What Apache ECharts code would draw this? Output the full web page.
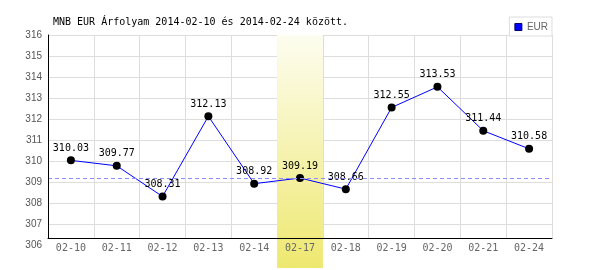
<!DOCTYPE html>
<html>
<head>
<meta charset="utf-8">
<script src="https://cdn.jsdelivr.net/npm/echarts@6/dist/echarts.min.js"></script>
<style>html,body{margin:0;padding:0;background:#fff}#c{width:600px;height:270px}</style>
</head>
<body>
<div id="c"></div>
<script>
const titleText = 'MNB EUR Árfolyam 2014-02-10 és 2014-02-24 között.';
const categories = ['02-10','02-11','02-12','02-13','02-14','02-17','02-18','02-19','02-20','02-21','02-24'];
const eurValues = [310.03, 309.77, 308.31, 312.13, 308.92, 309.19, 308.66, 312.55, 313.53, 311.44, 310.58];
const refLine = 309.19;
const highlightCat = '02-17';
const yMin = 306, yMax = 316, yStep = 1;

const mono = 'DejaVu Sans Mono';
const sans = 'Liberation Sans';
const bandData = categories.map(c => c === highlightCat ? 1 : null);
const splitColors = [];
for (let v = yMin; v <= yMax; v += yStep) splitColors.push(v === yMin ? 'rgba(0,0,0,0)' : '#dddddd');

const chart = echarts.init(document.getElementById('c'), null, {renderer: 'canvas'});
chart.setOption({
  animation: false,
  backgroundColor: '#ffffff',
  title: {
    text: titleText, left: 48, top: 12,
    textStyle: {fontFamily: mono, fontSize: 10, fontWeight: 'normal', color: '#000'}
  },
  legend: {
    right: 48, top: 17, orient: 'horizontal',
    padding: [5, 4, 4, 5],
    borderColor: '#dddddd', borderWidth: 1, backgroundColor: '#fff',
    itemWidth: 7, itemHeight: 7, icon: 'rect',
    textStyle: {fontFamily: sans, fontSize: 10, color: '#666'},
    data: [{name: 'EUR', itemStyle: {color: '#0000ff', borderColor: '#000066', borderWidth: 1}}]
  },
  grid: [
    {left: 48, right: 48, top: 35, height: 210},
    {left: 48, right: 48, top: 35, height: 203},
    {left: 48, right: 48, top: 35, height: 233}
  ],
  xAxis: [
    {gridIndex: 0, type: 'category', data: categories, show: false},
    {gridIndex: 1, type: 'category', data: categories, position: 'bottom', z: 0,
     axisLine: {show: false}, axisTick: {show: false}, axisLabel: {show: false},
     splitLine: {show: true, lineStyle: {color: '#dddddd', width: 1}}},
    {gridIndex: 1, type: 'category', data: categories, position: 'bottom', z: 6,
     axisLine: {show: true, lineStyle: {color: '#000', width: 1}}, axisTick: {show: false},
     axisLabel: {show: true, fontFamily: mono, fontSize: 10, color: '#666', margin: 5},
     splitLine: {show: false}},
    {gridIndex: 2, type: 'category', data: categories, show: false}
  ],
  yAxis: [
    {gridIndex: 0, type: 'value', min: yMin, max: yMax, interval: yStep, position: 'left',
     axisLine: {show: false}, axisTick: {show: false},
     axisLabel: {fontFamily: sans, fontSize: 10, color: '#555', margin: 6},
     splitLine: {show: true, lineStyle: {color: splitColors, width: 1}}},
    {gridIndex: 1, type: 'value', min: 0, max: 1, position: 'left', z: 6,
     axisLine: {show: true, lineStyle: {color: '#000', width: 1}}, axisTick: {show: false},
     axisLabel: {show: false}, splitLine: {show: false}},
    {gridIndex: 2, type: 'value', min: 0, max: 1, show: false}
  ],
  series: [
    {
      name: 'band', type: 'bar', xAxisIndex: 3, yAxisIndex: 2, data: bandData,
      barWidth: '100%', z: 1, silent: true, legendHoverLink: false,
      itemStyle: {color: new echarts.graphic.LinearGradient(0, 0, 0, 1, [
        {offset: 0, color: '#fdfdf0'}, {offset: 1, color: '#eee870'}])}
    },
    {
      name: 'EUR', type: 'line', xAxisIndex: 0, yAxisIndex: 0, data: eurValues, z: 4,
      symbol: 'circle', symbolSize: 8,
      lineStyle: {color: '#0000ff', width: 1},
      itemStyle: {color: '#000'},
      label: {show: true, position: 'top', distance: 3, fontFamily: mono, fontSize: 10, color: '#000',
              formatter: p => p.value.toFixed(2)},
      markLine: {
        silent: true, symbol: ['none', 'none'], label: {show: false},
        lineStyle: {color: '#8c8cff', type: [4, 3], width: 1},
        data: [{yAxis: refLine}]
      }
    }
  ]
});
</script>
</body>
</html>
